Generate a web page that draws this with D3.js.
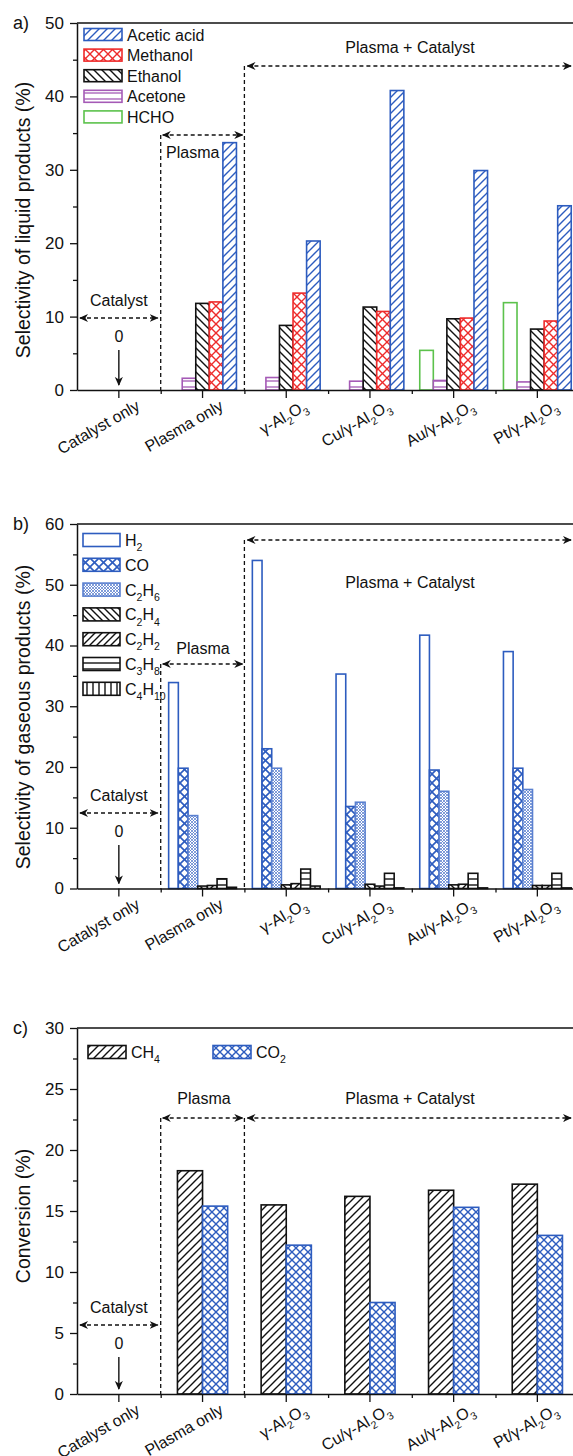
<!DOCTYPE html>
<html>
<head>
<meta charset="utf-8">
<script src="https://cdn.jsdelivr.net/npm/d3@7"></script>
<style>
body { margin: 0; background: #fff; }
svg { display: block; font-family: "Liberation Sans", Arial, sans-serif; }
</style>
</head>
<body>
<div id="chart"></div>
<script>
var width = 573;
var height = 1456;

var categories = ["Catalyst only", "Plasma only", "γ-Al2O3", "Cu/γ-Al2O3", "Au/γ-Al2O3", "Pt/γ-Al2O3"];

// a) selectivity of liquid products (%)
var liquidNames = ["HCHO", "Acetone", "Ethanol", "Methanol", "Acetic acid"];
var HCHO       = [0, 0, 0, 0, 5.4, 11.9];
var acetone    = [0, 1.6, 1.7, 1.2, 1.3, 1.1];
var ethanol    = [0, 11.8, 8.8, 11.3, 9.7, 8.3];
var methanol   = [0, 12.0, 13.2, 10.7, 9.8, 9.4];
var aceticAcid = [0, 33.7, 20.3, 40.8, 29.9, 25.1];
var liquidValues = [HCHO, acetone, ethanol, methanol, aceticAcid];
var liquidLegend = ["Acetic acid", "Methanol", "Ethanol", "Acetone", "HCHO"];
var yTicksA = [0, 10, 20, 30, 40, 50];

// b) selectivity of gaseous products (%)
var gasNames = ["H2", "CO", "C2H6", "C2H4", "C2H2", "C3H8", "C4H10"];
var H2    = [0, 33.9, 54.0, 35.3, 41.7, 39.0];
var CO    = [0, 19.8, 23.0, 13.5, 19.5, 19.8];
var C2H6  = [0, 12.0, 19.8, 14.2, 16.0, 16.3];
var C2H4  = [0, 0.4, 0.6, 0.7, 0.6, 0.5];
var C2H2  = [0, 0.5, 0.8, 0.4, 0.7, 0.5];
var C3H8  = [0, 1.6, 3.2, 2.5, 2.5, 2.5];
var C4H10 = [0, 0.2, 0.4, 0.1, 0.1, 0.1];
var gasValues = [H2, CO, C2H6, C2H4, C2H2, C3H8, C4H10];
var yTicksB = [0, 10, 20, 30, 40, 50, 60];

// c) conversion (%)
var convNames = ["CH4", "CO2"];
var CH4 = [0, 18.3, 15.5, 16.2, 16.7, 17.2];
var CO2 = [0, 15.4, 12.2, 7.5, 15.3, 13.0];
var convValues = [CH4, CO2];
var yTicksC = [0, 5, 10, 15, 20, 25, 30];

var blue = "#2d5cbf", red = "#ee2b2b", black = "#111", purple = "#a55ab6", green = "#5cc24c";

var svg = d3.select("#chart").append("svg")
    .attr("width", width)
    .attr("height", height);
var defs = svg.append("defs");

// hatch patterns
function hatch(id, color, s, dirs, sw) {
    var p = defs.append("pattern").attr("id", id)
        .attr("patternUnits", "userSpaceOnUse")
        .attr("width", s).attr("height", s);
    p.append("rect").attr("width", s).attr("height", s).attr("fill", "#fff");
    var d = {
        fwd: "M0," + s + " L" + s + ",0 M-1,1 L1,-1 M" + (s - 1) + "," + (s + 1) + " L" + (s + 1) + "," + (s - 1),
        bwd: "M0,0 L" + s + "," + s + " M-1," + (s - 1) + " L1," + (s + 1) + " M" + (s - 1) + ",-1 L" + (s + 1) + ",1",
        hz: "M0," + (s / 2) + " L" + s + "," + (s / 2),
        vt: "M" + (s / 2) + ",0 L" + (s / 2) + "," + s
    };
    dirs.forEach(function(k) {
        p.append("path").attr("d", d[k]).attr("stroke", color)
            .attr("stroke-width", sw).attr("fill", "none");
    });
}
hatch("pAcetic", blue, 8, ["fwd"], 1.4);
hatch("pMethanol", red, 9, ["fwd", "bwd"], 1.4);
hatch("pEthanol", black, 8, ["bwd"], 1.4);
hatch("pAcetone", purple, 6, ["hz"], 1.3);
hatch("pCO", blue, 9, ["fwd", "bwd"], 1.6);
hatch("pMesh", "#4a72c8", 3, ["fwd", "bwd"], 0.7);
hatch("pBwdK", black, 7, ["bwd"], 1.4);
hatch("pFwdK", black, 7, ["fwd"], 1.4);
hatch("pHzK", black, 6, ["hz"], 1.4);
hatch("pVtK", black, 6, ["vt"], 1.4);
hatch("pCH4", black, 8, ["fwd"], 1.4);
hatch("pCO2", blue, 8, ["fwd", "bwd"], 1.4);

var styles = {
    "Acetic acid": { fill: "url(#pAcetic)", stroke: blue },
    "Methanol":    { fill: "url(#pMethanol)", stroke: red },
    "Ethanol":     { fill: "url(#pEthanol)", stroke: black },
    "Acetone":     { fill: "url(#pAcetone)", stroke: purple },
    "HCHO":        { fill: "#fff", stroke: green },
    "H2":    { fill: "#fff", stroke: blue },
    "CO":    { fill: "url(#pCO)", stroke: blue },
    "C2H6":  { fill: "url(#pMesh)", stroke: "#5a80d0" },
    "C2H4":  { fill: "url(#pBwdK)", stroke: black },
    "C2H2":  { fill: "url(#pFwdK)", stroke: black },
    "C3H8":  { fill: "url(#pHzK)", stroke: black },
    "C4H10": { fill: "url(#pVtK)", stroke: black },
    "CH4": { fill: "url(#pCH4)", stroke: black },
    "CO2": { fill: "url(#pCO2)", stroke: blue }
};

defs.append("marker").attr("id", "head")
    .attr("viewBox", "0 0 10 10").attr("refX", 9).attr("refY", 5)
    .attr("markerWidth", 9).attr("markerHeight", 9)
    .attr("markerUnits", "userSpaceOnUse")
    .attr("orient", "auto-start-reverse")
  .append("path").attr("d", "M0,0.5 L10,5 L0,9.5 L3,5 Z").attr("fill", black);

// text with digits as subscripts
function rich(t, str, fs) {
    var down = false;
    str.match(/\d+|\D+/g).forEach(function(part) {
        var sub = /^\d/.test(part);
        var ts = t.append("tspan").text(part);
        if (sub) {
            ts.attr("font-size", fs * 0.66).attr("dy", fs * 0.32);
            down = true;
        } else if (down) {
            ts.attr("dy", -fs * 0.32);
            down = false;
        }
    });
}

var x0 = 77, step = 83.7;
var x = d3.scaleBand().domain(categories).range([x0, x0 + step * categories.length]);
var xIdx = d3.scaleLinear().domain([0, categories.length]).range([x0, x0 + step * categories.length]);

function dashed(g, x1, y1, x2, y2, heads) {
    var l = g.append("line").attr("x1", x1).attr("y1", y1).attr("x2", x2).attr("y2", y2)
        .attr("stroke", black).attr("stroke-width", 1.3).attr("stroke-dasharray", "4,3");
    if (heads) l.attr("marker-start", "url(#head)").attr("marker-end", "url(#head)");
}
function label(g, str, xx, yy, anchor) {
    g.append("text").attr("x", xx).attr("y", yy).attr("text-anchor", anchor || "middle")
        .attr("font-size", 16).attr("fill", black).text(str);
}

function drawPanel(o) {
    var y = d3.scaleLinear().domain([0, o.max]).range([o.bottom, o.top]);
    var g = svg.append("g");
    var bw = x.bandwidth();
    var inner = d3.scaleBand().domain(o.names).range([bw * o.pad, bw * (1 - o.pad)]);

    o.names.forEach(function(name, k) {
        var st = styles[name];
        g.append("g").selectAll("rect")
            .data(o.values[k].map(function(v, i) { return { cat: categories[i], v: v }; })
                .filter(function(d) { return d.v > 0; }))
            .join("rect")
            .attr("x", function(d) { return x(d.cat) + inner(name); })
            .attr("y", function(d) { return y(d.v); })
            .attr("width", inner.bandwidth())
            .attr("height", function(d) { return y(0) - y(d.v); })
            .attr("fill", st.fill)
            .attr("stroke", st.stroke)
            .attr("stroke-width", 1.6);
    });

    // frame
    g.append("line").attr("x1", x0).attr("x2", xIdx(categories.length))
        .attr("y1", o.top).attr("y2", o.top).attr("stroke", black).attr("stroke-width", 1.5);

    // y axis
    var minor = d3.range(o.minor, o.max, o.minor * 2);
    var ya = g.append("g").attr("transform", "translate(" + x0 + ",0)")
        .call(d3.axisLeft(y).tickValues(o.ticks).tickSize(7).tickSizeOuter(0).tickPadding(6));
    ya.selectAll("text").attr("font-size", 17).attr("font-family", null).attr("fill", black);
    g.append("g").attr("transform", "translate(" + x0 + ",0)")
        .call(d3.axisLeft(y).tickValues(minor).tickSize(4).tickFormat(""))
        .select(".domain").remove();

    // x axis
    var xa = g.append("g").attr("transform", "translate(0," + o.bottom + ")")
        .call(d3.axisBottom(x).tickSize(8).tickSizeOuter(0).tickFormat(""));
    g.append("g").attr("transform", "translate(0," + o.bottom + ")")
        .call(d3.axisBottom(xIdx).tickValues([1, 2, 3, 4, 5]).tickSize(4).tickFormat(""))
        .select(".domain").remove();
    g.selectAll(".domain").attr("stroke-width", 1.5).attr("stroke", black);
    g.selectAll(".tick line").attr("stroke-width", 1.3).attr("stroke", black);

    categories.forEach(function(c) {
        var t = g.append("text")
            .attr("transform", "translate(" + (x(c) + bw / 2 + 22) + "," + (o.bottom + 19) + ") rotate(-30)")
            .attr("text-anchor", "end").attr("font-size", 16).attr("fill", black);
        rich(t, c, 16);
    });

    // titles
    g.append("text").attr("x", 13).attr("y", o.top + 6).attr("font-size", 18).attr("fill", black).text(o.letter);
    g.append("text")
        .attr("transform", "translate(30," + o.titleY + ") rotate(-90)")
        .attr("text-anchor", "middle").attr("font-size", 19.5).attr("fill", black)
        .text(o.title);

    // legend
    o.legend.forEach(function(name, i) {
        var lx = o.legendPos[i][0], ly = o.legendPos[i][1];
        g.append("rect").attr("x", lx).attr("y", ly - o.swH / 2).attr("width", o.swW).attr("height", o.swH)
            .attr("fill", styles[name].fill).attr("stroke", styles[name].stroke).attr("stroke-width", 1.6);
        var t = g.append("text").attr("x", lx + o.swW + 5).attr("y", ly + 6)
            .attr("font-size", 16).attr("fill", black);
        rich(t, name, 16);
    });

    // annotations
    var a = o.ann;
    var cx = x(categories[0]) + bw / 2;
    label(g, "Catalyst", cx, a.catY - 12);
    dashed(g, x0 + 3, a.catY, xIdx(1) - 3, a.catY, true);
    label(g, "0", cx, a.catY + 24);
    g.append("line").attr("x1", cx).attr("x2", cx).attr("y1", a.catY + 32).attr("y2", o.bottom - 5)
        .attr("stroke", black).attr("stroke-width", 1.4).attr("marker-end", "url(#head)");

    dashed(g, xIdx(1), a.plY, xIdx(1), o.bottom, false);
    dashed(g, xIdx(1) + 2, a.plY, xIdx(2) - 2, a.plY, true);
    label(g, "Plasma", a.plTextX, a.plTextY, a.plAnchor);

    dashed(g, xIdx(2), a.pcY, xIdx(2), o.bottom, false);
    dashed(g, xIdx(2) + 3, a.pcY, 571, a.pcY, true);
    label(g, "Plasma + Catalyst", 410, a.pcTextY);
}

drawPanel({
    letter: "a)", top: 23, bottom: 390, max: 50, ticks: yTicksA, minor: 5,
    names: liquidNames, values: liquidValues, pad: 0.095,
    title: "Selectivity of liquid products (%)", titleY: 220,
    legend: liquidLegend, swW: 38, swH: 12,
    legendPos: liquidLegend.map(function(d, i) { return [84, 34.5 + i * 20.6]; }),
    ann: { catY: 318, plY: 135, plTextX: 166, plTextY: 158, plAnchor: "start", pcY: 66, pcTextY: 53 }
});

drawPanel({
    letter: "b)", top: 524, bottom: 888.5, max: 60, ticks: yTicksB, minor: 5,
    names: gasNames, values: gasValues, pad: 0.095,
    title: "Selectivity of gaseous products (%)", titleY: 717,
    legend: gasNames, swW: 37, swH: 13,
    legendPos: gasNames.map(function(d, i) { return [83, 540 + i * 24.8]; }),
    ann: { catY: 813, plY: 664, plTextX: 203, plTextY: 654, plAnchor: "middle", pcY: 540, pcTextY: 588 }
});

drawPanel({
    letter: "c)", top: 1028, bottom: 1394, max: 30, ticks: yTicksC, minor: 2.5,
    names: convNames, values: convValues, pad: 0.2,
    title: "Conversion (%)", titleY: 1216,
    legend: convNames, swW: 38, swH: 13,
    legendPos: [[88, 1052], [213, 1052]],
    ann: { catY: 1325, plY: 1118, plTextX: 204, plTextY: 1104, plAnchor: "middle", pcY: 1118, pcTextY: 1104 }
});
</script>
</body>
</html>
